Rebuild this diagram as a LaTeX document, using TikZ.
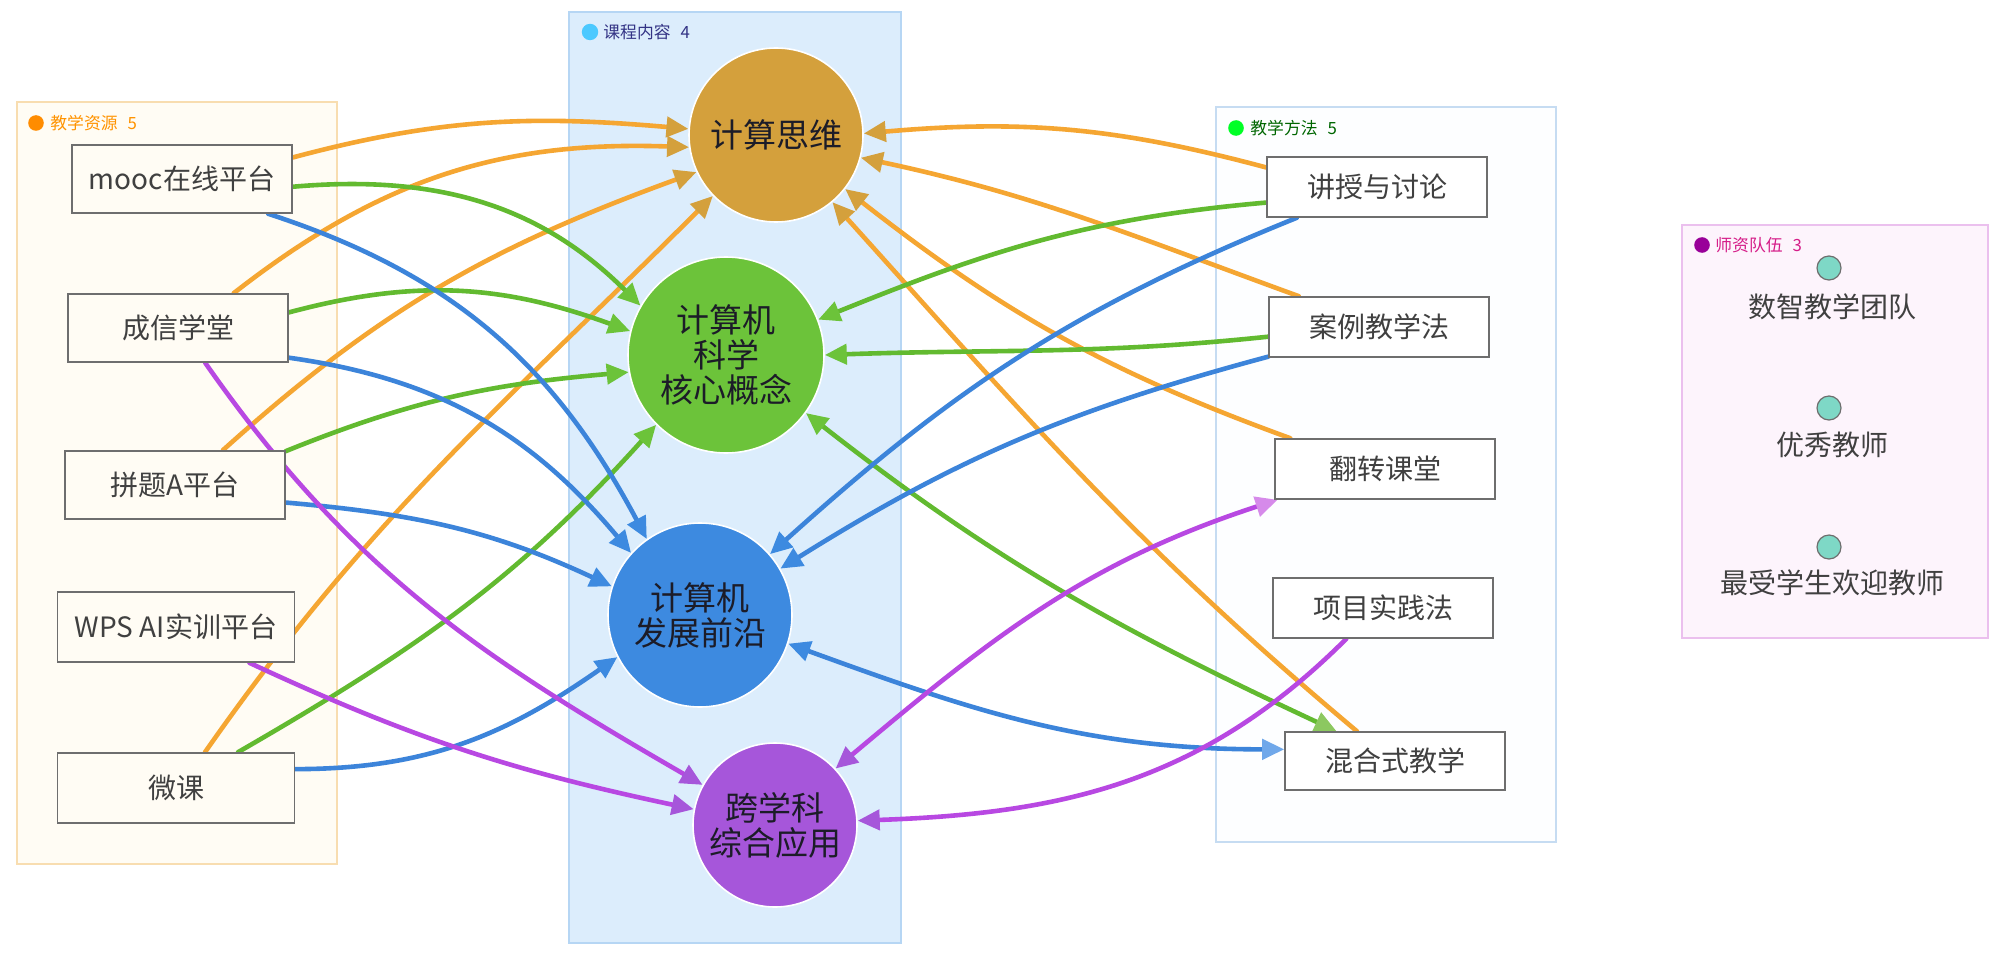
\documentclass[tikz,border=0pt]{standalone}
\usepackage{fontspec}
\setmainfont{Noto Sans CJK SC}
\usetikzlibrary{arrows.meta}

\pgfdeclarelayer{back}
\pgfdeclarelayer{links}
\pgfsetlayers{back,links,main}

\definecolor{ctfill}{HTML}{D4A03C}
\definecolor{csfill}{HTML}{6CC33A}
\definecolor{frfill}{HTML}{3D8AE0}
\definecolor{iafill}{HTML}{A656DA}
\definecolor{orline}{HTML}{F5A632}
\definecolor{grline}{HTML}{62BA30}
\definecolor{blline}{HTML}{3C84DA}
\definecolor{puline}{HTML}{B848E2}
\definecolor{grlight}{HTML}{8CC860}
\definecolor{bllight}{HTML}{70A8EA}
\definecolor{pulight}{HTML}{D68AEA}
\definecolor{boxline}{HTML}{6E6E6E}
\definecolor{boxtext}{HTML}{404040}
\definecolor{topictext}{HTML}{1C1C28}
\definecolor{resbg}{HTML}{FFFCF4}
\definecolor{resedge}{HTML}{F8DDB0}
\definecolor{conbg}{HTML}{DCEDFC}
\definecolor{conedge}{HTML}{B6D6F4}
\definecolor{metbg}{HTML}{FDFEFF}
\definecolor{metedge}{HTML}{C6DCF2}
\definecolor{teabg}{HTML}{FDF4FC}
\definecolor{teaedge}{HTML}{EBC0EE}
\definecolor{teadot}{HTML}{7ED8C6}

\tikzset{
  group/.style={line width=1pt},
  head/.style={anchor=west, inner sep=0pt, font=\fontsize{8.4}{10}\selectfont},
  box/.style={draw=boxline, fill=white, line width=0.8pt, minimum width=110pt,
    minimum height=34pt, inner sep=0pt, text=boxtext, font=\fontsize{14}{16}\selectfont},
  topic/.style={circle, inner sep=0pt, align=center, draw=white, line width=0.8pt,
    text=topictext, font=\fontsize{16.5}{17.5}\selectfont},
  teacher/.style={circle, minimum size=12pt, inner sep=0pt, fill=teadot, draw=boxline, line width=0.6pt},
  link/.style={line width=2.3pt, line cap=round},
  orlink/.style={link, draw=orline, -{Triangle[length=11pt,width=10pt,color=ctfill]}},
  grlink/.style={link, draw=grline, -{Triangle[length=11pt,width=10pt,color=csfill]}},
  bllink/.style={link, draw=blline, -{Triangle[length=11pt,width=10pt,color=frfill]}},
  pulink/.style={link, draw=puline, -{Triangle[length=11pt,width=10pt,color=iafill]}},
}

\begin{document}
\begin{tikzpicture}[x=0.5pt, y=-0.5pt]
    \useasboundingbox (0,0) rectangle (2000,957);

    % 定義區塊
    \begin{pgfonlayer}{back}
    \fill[white] (0,0) rectangle (2000,957);
    \draw[group, fill=resbg, draw=resedge] (17,102) rectangle (337,864);
    \draw[group, fill=conbg, draw=conedge] (569,12) rectangle (901,943);
    \draw[group, fill=metbg, draw=metedge] (1216,107) rectangle (1556,842);
    \draw[group, fill=teabg, draw=teaedge] (1682,225) rectangle (1988,638);
    \end{pgfonlayer}

    % 區塊標題
    \fill[orange!90!yellow] (36,123) circle (3.9pt);
    \node[head, text=orange!85!yellow] (hres) at (50,123) {教学资源\hspace{5pt}5};
    \fill[blue!30!cyan!70] (590,32) circle (4.1pt);
    \node[head, text=blue!40!black!80] (hcon) at (603,32) {课程内容\hspace{5pt}4};
    \fill[green!85!cyan] (1236,128) circle (3.9pt);
    \node[head, text=green!40!black] (hmet) at (1250,128) {教学方法\hspace{5pt}5};
    \fill[violet!80!magenta] (1702,245) circle (3.9pt);
    \node[head, text=magenta!75!violet] (htea) at (1715,245) {师资队伍\hspace{5pt}3};

    % 畫出節點
    \node[box, fill=resbg] (mooc) at (182,179) {mooc在线平台};
    \node[box, fill=resbg] (cxxt) at (178,328) {成信学堂};
    \node[box, fill=resbg] (pta) at (175,485) {拼题A平台};
    \node[box, fill=resbg, minimum width=118.5pt, minimum height=35pt] (wps) at (176,627) {WPS AI实训平台};
    \node[box, fill=resbg, minimum width=118.5pt, minimum height=35pt] (wk) at (176,788) {微课};

    \node[topic, fill=ctfill, minimum size=87pt] (ct) at (776,135) {计算思维};
    \node[topic, fill=csfill, minimum size=98pt] (cs) at (726,355) {计算机\\科学\\核心概念};
    \node[topic, fill=frfill, minimum size=92pt] (fr) at (700,615) {计算机\\发展前沿};
    \node[topic, fill=iafill, minimum size=82pt] (ia) at (775,825) {跨学科\\综合应用};

    \node[box, minimum height=30pt] (js) at (1377,187) {讲授与讨论};
    \node[box, minimum height=30pt] (al) at (1379,327) {案例教学法};
    \node[box, minimum height=30pt] (fz) at (1385,469) {翻转课堂};
    \node[box, minimum height=30pt] (xm) at (1383,608) {项目实践法};
    \node[box, minimum height=29pt] (hh) at (1395,761) {混合式教学};

    \node[teacher] (t1) at (1829,268) {};
    \node[font=\fontsize{14}{16}\selectfont, text=boxtext] (l1) at (1832,307) {数智教学团队};
    \node[teacher] (t2) at (1829,408) {};
    \node[font=\fontsize{14}{16}\selectfont, text=boxtext] (l2) at (1832,445) {优秀教师};
    \node[teacher] (t3) at (1829,547) {};
    \node[font=\fontsize{14}{16}\selectfont, text=boxtext] (l3) at (1832,583) {最受学生欢迎教师};

    % 畫出連線
    \begin{pgfonlayer}{links}
    \draw[orlink] (mooc.11) to[out=15, in=175] (ct.176);
    \draw[orlink] (cxxt.32) to[out=38, in=178] (ct.188);
    \draw[orlink] (pta.36) to[out=42, in=200] (ct.205);
    \draw[orlink] (wk.51) to[out=55, in=225] (ct.224);
    \draw[orlink] (js.170) to[out=165, in=5] (ct.1);
    \draw[orlink] (al.159) to[out=160, in=348] (ct.345);
    \draw[orlink] (fz.162) to[out=160, in=322] (ct.322);
    \draw[orlink] (hh.142) to[out=140, in=312] (ct.310);

    \draw[grlink] (mooc.-4) to[out=5, in=135] (cs.150);
    \draw[grlink] (cxxt.8) to[out=15, in=160] (cs.166);
    \draw[grlink] (pta.17) to[out=22, in=185] (cs.190);
    \draw[grlink] (wk.30) to[out=30, in=228] (cs.225);
    \draw[grlink] (js.188) to[out=185, in=22] (cs.21);
    \draw[grlink] (al.185) to[out=186, in=2] (cs.0);
    \draw[link, draw=grline, {Triangle[length=11pt,width=10pt,color=csfill]}-{Triangle[length=11pt,width=10pt,color=grlight]}]
        (cs.324) to[out=-38, in=155] (hh.153);

    \draw[bllink] (mooc.-22) to[out=-18, in=118] (fr.125);
    \draw[bllink] (cxxt.-15) to[out=-8, in=130] (fr.138);
    \draw[bllink] (pta.-9) to[out=-5, in=155] (fr.162);
    \draw[bllink] (wk.9) to[out=0, in=215] (fr.207);
    \draw[bllink] (js.201) to[out=202, in=42] (fr.41);
    \draw[bllink] (al.195) to[out=195, in=32] (fr.30);
    \draw[link, draw=blline, {Triangle[length=11pt,width=10pt,color=frfill]}-{Triangle[length=11pt,width=10pt,color=bllight]}]
        (fr.342) to[out=-20, in=180] (hh.174);

    \draw[pulink] (cxxt.-52) to[out=-55, in=150] (ia.151);
    \draw[pulink] (wps.-26) to[out=-25, in=168] (ia.169);
    \draw[pulink] (xm.220) to[out=225, in=2] (ia.3);
    \draw[link, draw=puline, {Triangle[length=11pt,width=10pt,color=iafill]}-{Triangle[length=11pt,width=10pt,color=pulight]}]
        (ia.43) to[out=40, in=198] (fz.196);
    \end{pgfonlayer}
\end{tikzpicture}
\end{document}
